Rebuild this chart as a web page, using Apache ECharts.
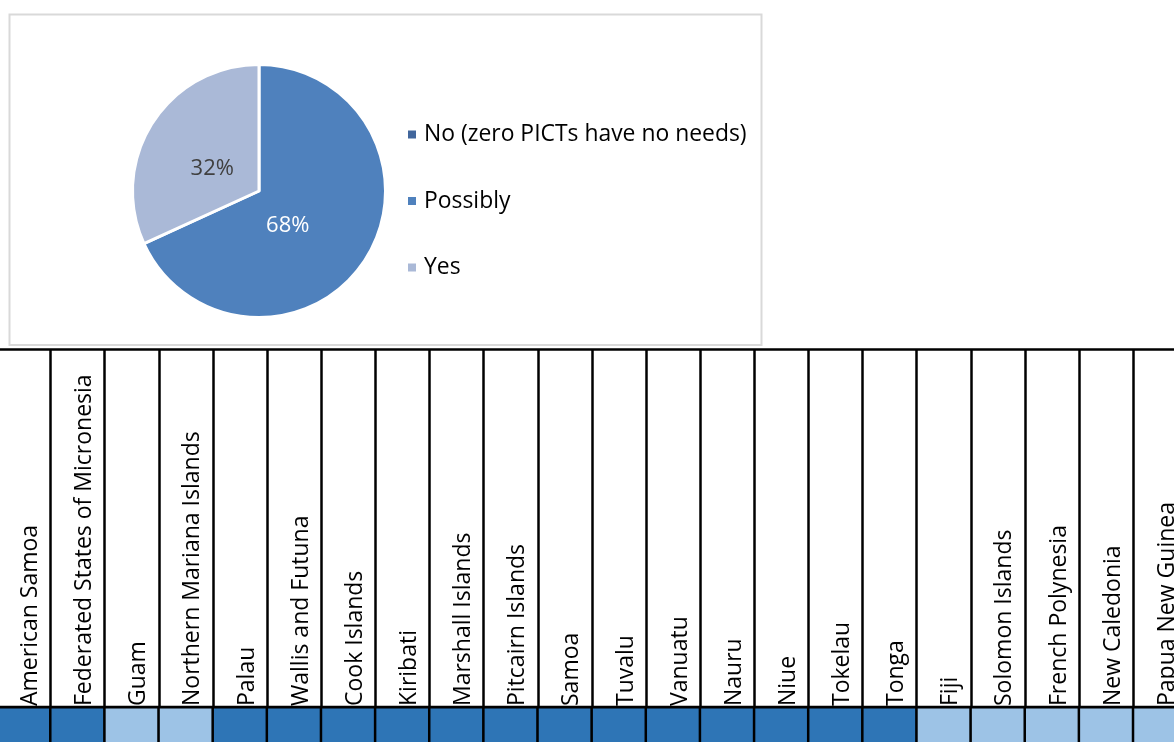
<!DOCTYPE html>
<html>
<head>
<meta charset="utf-8">
<script src="https://cdn.jsdelivr.net/npm/echarts@6/dist/echarts.min.js"></script>
<style>
html,body{margin:0;padding:0;background:#fff;}
#chart{width:1174px;height:742px;}
</style>
</head>
<body>
<div id="chart"></div>
<script>
// ---- data ----
const answerNames = ['No (zero PICTs have no needs)', 'Possibly', 'Yes'];
const answerCounts = [0, 15, 7];
const countries = ['American Samoa', 'Federated States of Micronesia', 'Guam', 'Northern Mariana Islands', 'Palau',
  'Wallis and Futuna', 'Cook Islands', 'Kiribati', 'Marshall Islands', 'Pitcairn Islands', 'Samoa', 'Tuvalu',
  'Vanuatu', 'Nauru', 'Niue', 'Tokelau', 'Tonga', 'Fiji', 'Solomon Islands', 'French Polynesia',
  'New Caledonia', 'Papua New Guinea'];
const countryAnswers = ['Possibly', 'Possibly', 'Yes', 'Yes', 'Possibly', 'Possibly', 'Possibly', 'Possibly',
  'Possibly', 'Possibly', 'Possibly', 'Possibly', 'Possibly', 'Possibly', 'Possibly', 'Possibly', 'Possibly',
  'Yes', 'Yes', 'Yes', 'Yes', 'Yes'];

// ---- chart ----
const FONT = '"Open Sans", "Noto Sans", sans-serif';
const chart = echarts.init(document.getElementById('chart'), null, {renderer: 'canvas'});
const pieColors = ['#41669C', '#4F81BD', '#AAB9D7'];
const labelColors = ['#FFFFFF', '#FFFFFF', '#404040'];
const labelNudge = [[0, 0], [-27, -1], [9, 14]];

const option = {
  backgroundColor: '#FFFFFF',
  animation: false,
  color: pieColors,
  textStyle: {fontFamily: FONT},
  graphic: [{
    type: 'rect', silent: true, z: -1,
    shape: {x: 9.5, y: 14.5, width: 752, height: 330.5},
    style: {fill: '#FFFFFF', stroke: '#D9D9D9', lineWidth: 2}
  }],
  legend: {
    orient: 'vertical', left: 406, top: 121, padding: 0,
    data: answerNames,
    icon: 'rect', itemWidth: 10, itemHeight: 10, itemGap: 39.5,
    textStyle: {fontFamily: FONT, fontSize: 22.9, color: '#000', lineHeight: 27, padding: [0, 0, 0, 2]}
  },
  grid: [
    {left: -3.6, width: 1191, top: 349.5, height: 357.5, outerBoundsMode: 'none', containLabel: false,
      show: true, borderColor: '#000', borderWidth: 2.6, backgroundColor: 'transparent'},
    {left: -3.6, width: 1191, top: 707.5, height: 45, outerBoundsMode: 'none', containLabel: false}
  ],
  xAxis: [
    {
      gridIndex: 0, type: 'category', data: countries, boundaryGap: true, position: 'bottom',
      axisLine: {show: false}, axisTick: {show: false},
      splitLine: {show: true, interval: 0, lineStyle: {color: '#000', width: 2.5}},
      axisLabel: {
        inside: true, interval: 0, rotate: 90, margin: 1, align: 'left', verticalAlign: 'top',
        lineHeight: 14, fontFamily: FONT, fontSize: 23, color: '#000'
      }
    },
    {
      gridIndex: 1, type: 'category', data: countries, boundaryGap: true,
      axisLine: {show: false}, axisTick: {show: false}, axisLabel: {show: false}, splitLine: {show: false}
    }
  ],
  yAxis: [
    {gridIndex: 0, type: 'value', show: false, min: 0, max: 1},
    {gridIndex: 1, type: 'category', data: ['Answer'], show: false}
  ],
  visualMap: {
    type: 'piecewise', show: false, seriesIndex: 1, dimension: 2,
    pieces: [{value: 1, color: '#2E75B6'}, {value: 2, color: '#9DC3E6'}]
  },
  series: [
    {
      type: 'pie', name: 'Answers', center: [259, 191], radius: 126.5,
      startAngle: 90, clockwise: true, avoidLabelOverlap: false,
      itemStyle: {borderColor: '#FFFFFF', borderWidth: 3},
      label: {
        show: true, position: 'inside', fontFamily: FONT, fontSize: 22,
        formatter: p => p.value > 0 ? Math.round(p.percent) + '%' : ''
      },
      labelLayout: p => ({dx: labelNudge[p.dataIndex][0], dy: labelNudge[p.dataIndex][1]}),
      labelLine: {show: false},
      emphasis: {disabled: true},
      data: answerNames.map((n, i) => ({name: n, value: answerCounts[i], label: {color: labelColors[i]}}))
    },
    {
      type: 'heatmap', name: 'Country answers', xAxisIndex: 1, yAxisIndex: 1,
      itemStyle: {borderColor: '#000', borderWidth: 2.5},
      emphasis: {disabled: true},
      data: countryAnswers.map((a, i) => [i, 0, answerNames.indexOf(a)])
    }
  ]
};
chart.setOption(option);
</script>
</body>
</html>
